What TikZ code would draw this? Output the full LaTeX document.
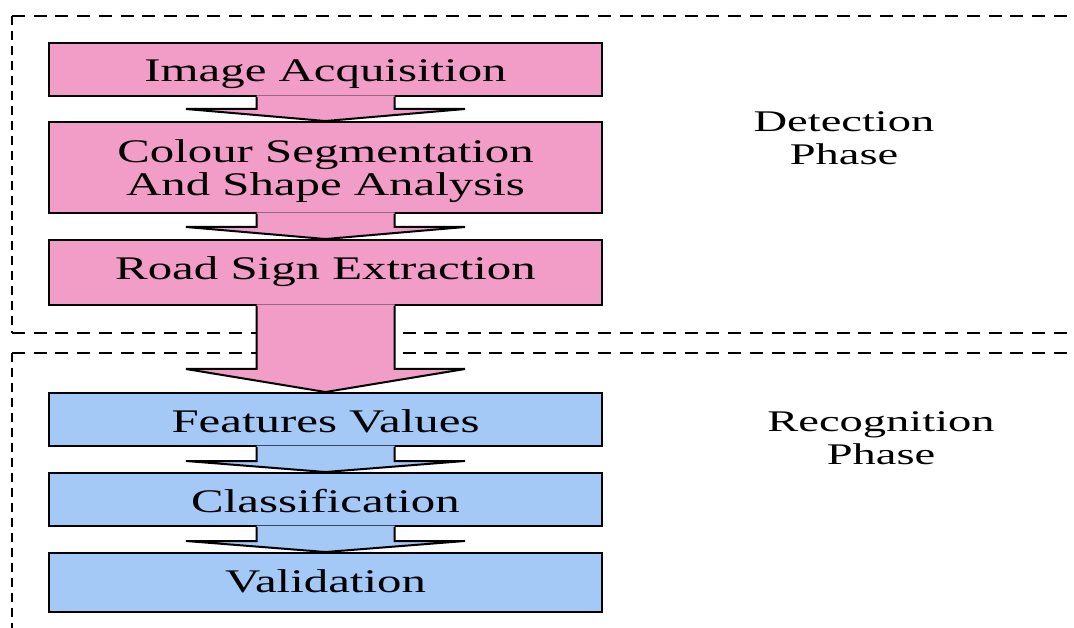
\documentclass[tikz,border=0pt]{standalone}
\usepackage{fontspec}
\setmainfont{Liberation Serif}
\usepackage{graphicx}
\usetikzlibrary{calc}
\definecolor{pinkfill}{RGB}{241,157,200}
\definecolor{bluefill}{RGB}{165,201,247}
\newcommand\wx[1]{\scalebox{1.48}[1]{#1}}
\newcommand\phasetxt[1]{\scalebox{1.55}[1]{#1}}
\newcommand\fatarrow[4]{%
  \fill[#4] ($(#1.south)+(-69,-1.5)$) -- ($(#1.south)+(-69,#3)$) -- ($(#1.south)+(-139.5,#3)$) -- ($(#2.north)+(0,-1)$) -- ($(#1.south)+(139.5,#3)$) -- ($(#1.south)+(69,#3)$) -- ($(#1.south)+(69,-1.5)$) -- cycle;
  \draw[arrowline] ($(#1.south)+(-69,0)$) -- ($(#1.south)+(-69,#3)$) -- ($(#1.south)+(-139.5,#3)$) -- (#2.north) -- ($(#1.south)+(139.5,#3)$) -- ($(#1.south)+(69,#3)$) -- ($(#1.south)+(69,0)$);
}
\begin{document}
\begin{tikzpicture}[x=1pt,y=-1pt,
  box/.style={draw=black,line width=2pt,inner sep=0pt,minimum width=553pt,anchor=base,font=\fontsize{33}{32}\selectfont},
  det/.style={box,fill=pinkfill},
  rec/.style={box,fill=bluefill},
  frame/.style={line width=2pt,dash pattern=on 13pt off 8.7pt},
  vframe/.style={line width=2pt,dash pattern=on 9pt off 6pt},
  phase/.style={inner sep=0pt,anchor=base,font=\fontsize{30}{33}\selectfont},
  arrowline/.style={line width=2pt,line join=miter}]
\useasboundingbox (0,0) rectangle (1074,628);
% phase frames
\draw[frame] (12,16) -- (1080,16);
\draw[vframe] (12,16) -- (12,333);
\draw[frame] (12,333) -- (1080,333);
\draw[frame] (12,353) -- (1080,353);
\draw[vframe] (12,353) -- (12,640);
% boxes
\node[det,text height=39pt,text depth=14pt] (acq) at (325.5,82) {\wx{Image Acquisition}};
\node[det,text height=41pt,text depth=50pt] (seg) at (325.5,163) {\wx{\begin{tabular}[t]{@{}c@{}}Colour Segmentation\\And Shape Analysis\end{tabular}}};
\node[det,text height=40pt,text depth=25pt] (ext) at (325.5,280) {\wx{Road Sign Extraction}};
\node[rec,text height=39pt,text depth=14pt] (feat) at (325.5,432) {\wx{Features Values}};
\node[rec,text height=39pt,text depth=14pt] (cls) at (325.5,512) {\wx{Classification}};
\node[rec,text height=39pt,text depth=20pt] (val) at (325.5,592) {\wx{Validation}};
% arrows
\fatarrow{acq}{seg}{12}{pinkfill}
\fatarrow{seg}{ext}{13}{pinkfill}
\fatarrow{ext}{feat}{63}{pinkfill}
\fatarrow{feat}{cls}{14}{bluefill}
\fatarrow{cls}{val}{14}{bluefill}
% phase labels
\node[phase] (detl) at (844,132) {\phasetxt{\begin{tabular}[t]{@{}c@{}}Detection\\Phase\end{tabular}}};
\node[phase] (recl) at (881,431) {\phasetxt{\begin{tabular}[t]{@{}c@{}}Recognition\\Phase\end{tabular}}};
\end{tikzpicture}
\end{document}
